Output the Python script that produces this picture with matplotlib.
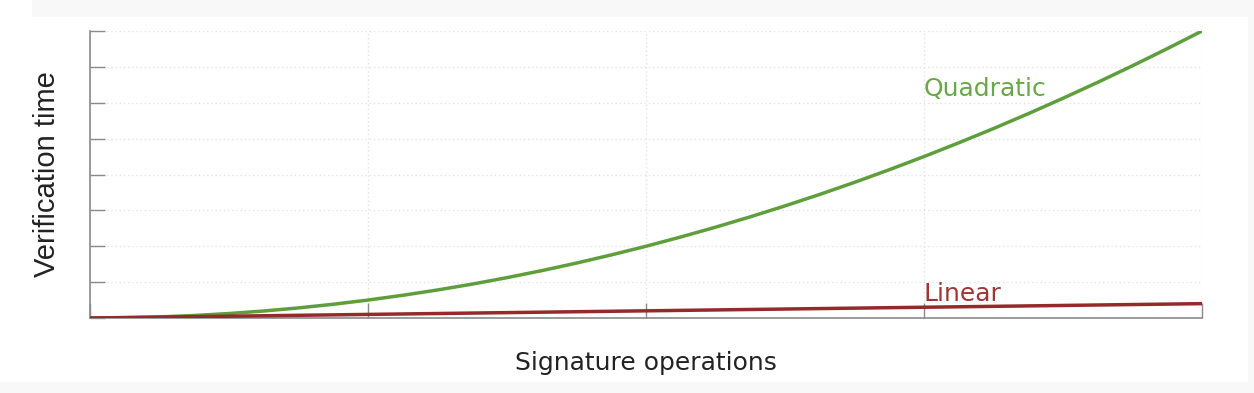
import matplotlib

matplotlib.use("Agg")
import matplotlib.pyplot as plt
from matplotlib.patches import Rectangle

# signature operations (arbitrary units) and verification times
ops = [0, 0.125, 0.25, 0.375, 0.5, 0.625, 0.75, 0.875, 1.0, 1.125, 1.25, 1.375,
       1.5, 1.625, 1.75, 1.875, 2.0, 2.125, 2.25, 2.375, 2.5, 2.625, 2.75, 2.875,
       3.0, 3.125, 3.25, 3.375, 3.5, 3.625, 3.75, 3.875, 4.0]
quadratic = [0, 0.008, 0.031, 0.07, 0.125, 0.195, 0.281, 0.383, 0.5, 0.633,
             0.781, 0.945, 1.125, 1.32, 1.531, 1.758, 2.0, 2.258, 2.531, 2.82,
             3.125, 3.445, 3.781, 4.133, 4.5, 4.883, 5.281, 5.695, 6.125, 6.57,
             7.031, 7.508, 8.0]
linear = [0, 0.0125, 0.025, 0.0375, 0.05, 0.0625, 0.075, 0.0875, 0.1, 0.1125,
          0.125, 0.1375, 0.15, 0.1625, 0.175, 0.1875, 0.2, 0.2125, 0.225, 0.2375,
          0.25, 0.2625, 0.275, 0.2875, 0.3, 0.3125, 0.325, 0.3375, 0.35, 0.3625,
          0.375, 0.3875, 0.4]

x_ticks = [0, 1, 2, 3, 4]
y_ticks = [0, 1, 2, 3, 4, 5, 6, 7, 8]

GREEN = "#5e9e3c"
RED = "#952a2a"
AXIS = "#8a8a8a"

fig = plt.figure(figsize=(12.54, 3.93), dpi=100, facecolor="#f8f8f8")
# white panel inside the light grey frame
fig.patches.append(Rectangle((0, 11 / 393), 1248 / 1254, 365 / 393,
                             transform=fig.transFigure, facecolor="white",
                             edgecolor="none", zorder=-10))
fig.patches.append(Rectangle((0, 376 / 393), 32 / 1254, 17 / 393,
                             transform=fig.transFigure, facecolor="white",
                             edgecolor="none", zorder=-10))

ax = fig.add_axes([90 / 1254, 75 / 393, 1112 / 1254, 287 / 393])
ax.set_facecolor("white")

ax.plot(ops, quadratic, color=GREEN, linewidth=2.5, solid_capstyle="round", zorder=3)
ax.plot(ops, linear, color=RED, linewidth=2.5, solid_capstyle="round", zorder=3)

ax.text(3.0, 6.38, "Quadratic", color="#6aa64a", fontsize=18,
        family="DejaVu Sans", va="center", ha="left")
ax.text(3.0, 0.68, "Linear", color="#a03535", fontsize=18,
        family="DejaVu Sans", va="center", ha="left")

ax.set_xlim(0, 4)
ax.set_ylim(0, 8)
ax.set_xticks(x_ticks)
ax.set_yticks(y_ticks)
ax.tick_params(direction="in", length=11, width=1, color=AXIS,
               labelbottom=False, labelleft=False)
ax.grid(True, color="#e2e2e2", linestyle=(0, (1, 2)), linewidth=1)
ax.spines[["top", "right"]].set_visible(False)
for s in ("left", "bottom"):
    ax.spines[s].set_color(AXIS)
    ax.spines[s].set_linewidth(1.2)

ax.set_xlabel("Signature operations", fontsize=18, family="DejaVu Sans",
              color="#222222", labelpad=24)
ax.set_ylabel("Verification time", fontsize=21, family="Liberation Sans",
              color="#222222", labelpad=21)

fig.savefig("out.png", dpi=100, facecolor=fig.get_facecolor())
